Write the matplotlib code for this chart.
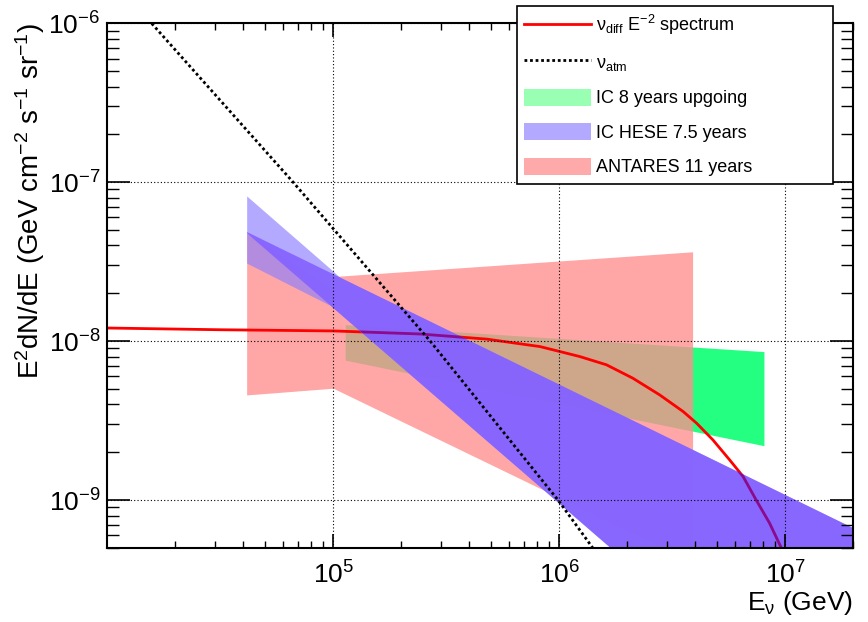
import numpy as np
import matplotlib
matplotlib.use("Agg")
from matplotlib import pyplot as plt
from matplotlib.lines import Line2D
from matplotlib.patches import Patch
from matplotlib.ticker import LogLocator, NullFormatter

plt.rcParams['font.family'] = ['Liberation Sans', 'DejaVu Sans']
plt.rcParams['mathtext.default'] = 'regular'

# nu_diff E^-2 spectrum (with cutoff)
diff_E = [1.0e4, 3.16e4, 1.0e5, 2.42e5, 4.79e5, 8.22e5, 1.007e6, 1.236e6, 1.622e6,
          2.12e6, 2.79e6, 3.54e6, 4.06e6, 4.80e6, 5.69e6, 6.52e6, 7.46e6, 8.55e6,
          9.64e6, 1.12e7]
diff_F = [1.21e-8, 1.18e-8, 1.16e-8, 1.11e-8, 1.03e-8, 9.25e-9, 8.61e-9, 8.0e-9, 7.10e-9,
          5.85e-9, 4.59e-9, 3.61e-9, 3.05e-9, 2.39e-9, 1.79e-9, 1.41e-9, 1.00e-9, 7.16e-10,
          4.99e-10, 3.16e-10]

# atmospheric neutrinos
atm_E = [1.0e4, 1.57e4, 6.65e4, 2.69e5, 9.9e5, 1.41e6, 2.0e6]
atm_F = [2.0e-6, 1.0e-6, 1.0e-7, 1.0e-8, 1.0e-9, 5.0e-10, 2.5e-10]

# IC 8 years upgoing
ic8_E = [1.13e5, 8.07e6]
ic8_hi = [1.27e-8, 8.6e-9]
ic8_lo = [7.6e-9, 2.2e-9]

# ANTARES 11 years (two pieces, split at 100 TeV)
ant_E = [4.14e4, 1.0e5, 1.0e5, 3.9e6]
ant_hi = [4.78e-8, 2.09e-8, 2.55e-8, 3.65e-8]
ant_lo = [4.59e-9, 5.06e-9, 5.06e-9, 4.07e-10]

# IC HESE 7.5 years: outer envelope + overlap region
hese_E = [4.14e4, 9.7e4, 1.07e5, 2.0e7]
hese_hi = [8.2e-8, 2.86e-8, 2.52e-8, 6.7e-10]
hese_lo = [3.1e-8, 1.68e-8, 1.49e-8, 2.4e-11]
core_E = [4.14e4, 2.0e7]
core_hi = [4.89e-8, 6.7e-10]
core_lo = [4.8e-8, 2.4e-11]

labels = [r"ν$_{diff}$ E$^{-2}$ spectrum", r"ν$_{atm}$", "IC 8 years upgoing",
          "IC HESE 7.5 years", "ANTARES 11 years"]

fig = plt.figure(figsize=(8.68, 6.22), dpi=100)
ax = fig.add_axes([0.1236, 0.119, 0.8591, 0.8436])
ax.set_xscale('log')
ax.set_yscale('log')

ax.fill_between(ic8_E, ic8_lo, ic8_hi, color=(0.0, 1.0, 0.43), alpha=0.86, lw=0, zorder=1.0)
ax.fill_between(ant_E, ant_lo, ant_hi, color=(1.0, 0.553, 0.553), alpha=0.78, lw=0, zorder=1.1)
ax.plot(diff_E, diff_F, color='red', lw=2, zorder=1.2)
ax.fill_between(hese_E, hese_lo, hese_hi, color=(0.54, 0.49, 1.0), alpha=0.65, lw=0, zorder=1.3)
core = ax.fill_between(core_E, core_lo, core_hi, color=(0.52, 0.385, 1.0), alpha=0.92, lw=0, zorder=1.4)

# red line seen through the HESE band
purple, = ax.plot(diff_E, diff_F, color='#8c0a8c', lw=2, zorder=1.45)
purple.set_clip_path(core.get_paths()[0], core.get_transform())

ax.plot(atm_E, atm_F, color='black', ls=(0, (1, 1)), lw=2, zorder=1.5)

ax.set_xlim(1.0e4, 2.0e7)
ax.set_ylim(5e-10, 1e-6)
ax.set_xticks([1e5, 1e6, 1e7])
ax.set_yticks([1e-9, 1e-8, 1e-7, 1e-6])
ax.xaxis.set_minor_locator(LogLocator(subs=np.arange(2, 10), numticks=50))
ax.yaxis.set_minor_locator(LogLocator(subs=np.arange(2, 10), numticks=50))
ax.xaxis.set_minor_formatter(NullFormatter())
ax.yaxis.set_minor_formatter(NullFormatter())

ax.set_axisbelow(False)
ax.grid(True, which='major', color='black', ls=(0, (1, 2)), lw=0.8)

ax.tick_params(which='both', direction='in', top=True, right=True, labelsize=19)
ax.tick_params(axis='x', which='major', length=10, width=1.2, pad=10)
ax.tick_params(axis='x', which='minor', length=5, width=1.0)
ax.tick_params(axis='y', which='major', length=16.5, width=1.2, pad=5)
ax.tick_params(axis='y', which='minor', length=8.5, width=1.0)
for s in ax.spines.values():
    s.set_linewidth(1.5)

ax.set_xlabel(r"E$_{ν}$ (GeV)", loc='right', fontsize=19, labelpad=0)
ax.set_ylabel(r"E$^{2}$dN/dE (GeV cm$^{-2}$ s$^{-1}$ sr$^{-1}$)", loc='top', fontsize=20, labelpad=1)

handles = [Line2D([], [], color='red', lw=2),
           Line2D([], [], color='black', ls=(0, (1, 1)), lw=2),
           Patch(fc=(0.6, 1.0, 0.7), ec='none'),
           Patch(fc=(0.70, 0.667, 1.0), ec='none'),
           Patch(fc=(1.0, 0.667, 0.667), ec='none')]
leg = ax.legend(handles, labels, loc='upper left',
                bbox_to_anchor=(517 / 868, (622 - 183) / 622, 316 / 868, 177 / 622),
                bbox_transform=fig.transFigure, mode='expand', borderaxespad=0,
                fontsize=13, fancybox=False, edgecolor='black', framealpha=1,
                handlelength=3.7, handleheight=1.1, handletextpad=0.25,
                labelspacing=0.87, borderpad=0.4)
leg.get_frame().set_linewidth(1.2)
leg.set_zorder(10)

fig.savefig('out.png', dpi=100)
